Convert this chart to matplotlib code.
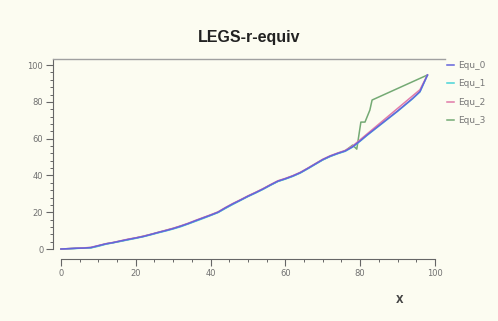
import matplotlib.pyplot as plt
import numpy as np

# Values
x_main = list(range(0, 97, 2)) + [98]
equ_0 = [0, 0.2, 0.4, 0.5, 0.8, 1.8, 2.8, 3.5, 4.4, 5.2, 6.0, 6.8, 7.9, 9.0, 10.0,
         11.1, 12.4, 13.8, 15.4, 16.9, 18.4, 20.0, 22.4, 24.6, 26.6, 28.7, 30.6,
         32.6, 34.8, 36.9, 38.2, 39.7, 41.5, 43.8, 46.2, 48.6, 50.5, 52.0, 53.3,
         55.6, 58.8, 62.2, 65.4, 68.6, 71.8, 75.0, 78.4, 81.8, 85.6, 94.6]
equ_1 = [0, 0.1, 0.3, 0.5, 0.6, 1.5, 2.6, 3.4, 4.2, 5.0, 5.8, 6.7, 7.7, 8.8, 9.8,
         10.9, 12.1, 13.6, 15.1, 16.6, 18.2, 19.8, 22.1, 24.3, 26.4, 28.5, 30.4,
         32.4, 34.6, 36.7, 38.0, 39.5, 41.3, 43.6, 46.0, 48.4, 50.3, 51.8, 53.1,
         55.4, 58.6, 62.0, 65.2, 68.4, 71.6, 74.8, 78.2, 81.6, 85.4, 94.4]
equ_2 = [0, 0.2, 0.4, 0.6, 0.9, 1.9, 2.9, 3.6, 4.5, 5.4, 6.1, 7.0, 8.0, 9.1, 10.2,
         11.3, 12.6, 14.0, 15.6, 17.1, 18.6, 20.2, 22.6, 24.8, 26.8, 28.9, 30.8,
         32.8, 35.0, 37.1, 38.4, 39.9, 41.7, 44.0, 46.4, 48.8, 50.7, 52.2, 53.6,
         56.0, 59.4, 62.8, 66.2, 69.6, 73.0, 76.4, 79.8, 83.2, 86.6, 94.6]
x_3 = list(range(0, 79, 2)) + [79.1, 80.2, 81.3, 82.6, 83.2, 98]
equ_3 = [0, 0.2, 0.4, 0.5, 0.7, 1.7, 2.8, 3.5, 4.3, 5.2, 6.0, 6.9, 7.9, 9.0, 10.1,
         11.2, 12.4, 13.8, 15.3, 16.9, 18.4, 20.0, 22.3, 24.5, 26.6, 28.7, 30.6,
         32.6, 34.8, 36.8, 38.2, 39.7, 41.5, 43.8, 46.2, 48.5, 50.4, 52.0, 53.4,
         56.5, 54.3, 69.0, 69.0, 75.5, 81.0, 94.6]

labels = ["Equ_0", "Equ_1", "Equ_2", "Equ_3"]
colors = ["#6464dc", "#48d4d8", "#e07aa8", "#74aa74"]

bg = "#fcfcf1"
fig = plt.figure(figsize=(4.98, 3.21), dpi=100, facecolor=bg)
W, H = 498, 321
ax = fig.add_axes([53 / W, 1 - 259 / H, (445 - 53) / W, (259 - 59) / H], facecolor=bg)

series = [(x_main, equ_0), (x_main, equ_1), (x_main, equ_2), (x_3, equ_3)]
# draw in reverse so the blue curve sits on top, as in the original
lines = {}
for (xs, ys), lab, col, z in zip(series, labels, colors, [5, 3, 4, 2]):
    lines[lab], = ax.plot(xs, ys, color=col, lw=1.1, label=lab, zorder=z)

ax.set_xlim(-2.14, 102.7)
ax.set_ylim(-5.43, 103.3)

ax.spines["right"].set_visible(False)
ax.spines["top"].set_color("#a0a0a0")
ax.spines["top"].set_linewidth(1.0)
ax.spines["left"].set_color("#666666")
ax.spines["bottom"].set_color("#666666")
ax.spines["left"].set_bounds(0, 103.3)
ax.spines["bottom"].set_bounds(0, 100)

ax.set_xticks(np.arange(0, 101, 20))
ax.set_xticks(np.arange(0, 101, 5), minor=True)
ax.set_yticks(np.arange(0, 101, 20))
ax.set_yticks(np.arange(0, 101, 4), minor=True)
ax.tick_params(which="major", length=5, width=0.8, color="#666666",
               labelsize=6, labelcolor="#707070", pad=2)
ax.tick_params(which="minor", length=2.5, width=0.7, color="#666666")

ax.set_title("LEGS-r-equiv", fontsize=11.5, fontweight="bold",
             family="Liberation Sans", pad=12, color="#222222")
fig.text(400 / W, 1 - 300 / H, "X", fontsize=7, fontweight="bold",
         color="#444444", ha="center", va="center")

fig.legend(handles=[lines[l] for l in labels], loc="upper left",
           bbox_to_anchor=(447 / W, 1 - 61 / H), frameon=False,
           fontsize=6.5, handlelength=0.8, handletextpad=0.4, labelspacing=1.05,
           labelcolor="#777777", borderaxespad=0, borderpad=0)

fig.savefig("out.png", dpi=100, facecolor=bg)
